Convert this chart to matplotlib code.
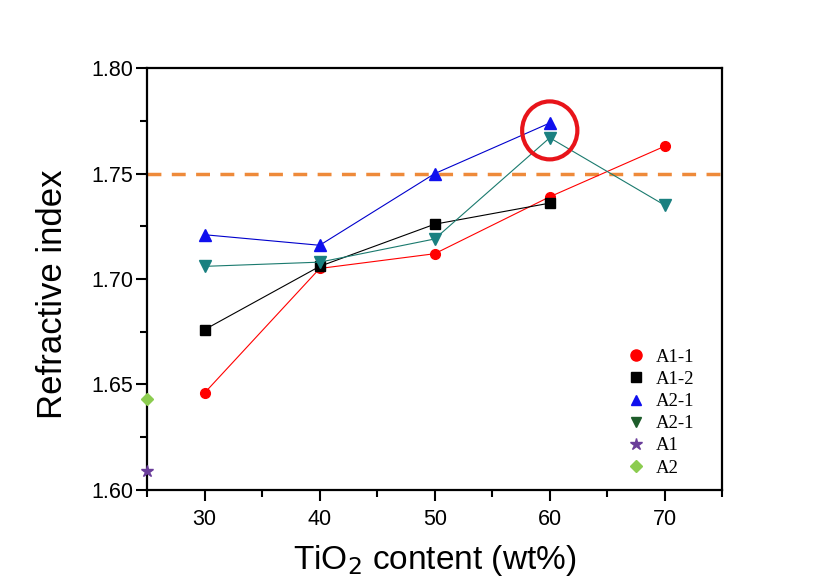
import numpy as np
import matplotlib.pyplot as plt
from matplotlib.patches import Ellipse
from matplotlib.ticker import MultipleLocator

# TiO2 content (wt%)
x_a11 = [30, 40, 50, 60, 70]
y_a11 = [1.646, 1.705, 1.712, 1.739, 1.763]

x_a12 = [30, 40, 50, 60]
y_a12 = [1.676, 1.706, 1.726, 1.736]

x_a21 = [30, 40, 50, 60]
y_a21 = [1.721, 1.716, 1.750, 1.774]

x_a21b = [30, 40, 50, 60, 70]
y_a21b = [1.706, 1.708, 1.719, 1.767, 1.735]

x_a1 = [25]
y_a1 = [1.609]
x_a2 = [25]
y_a2 = [1.643]

target = 1.75

plt.rcParams['font.family'] = ['Liberation Sans', 'DejaVu Sans']

fig = plt.figure(figsize=(8.36, 5.88), dpi=100)
ax = fig.add_axes([0.176, 0.167, 0.688, 0.717])

ax.axhline(target, color='#ee8a3a', lw=2.5, ls=(0, (4, 3)), zorder=1)

ax.plot(x_a11, y_a11, color='red', lw=0.8, marker='o', ms=7, zorder=3)
ax.plot(x_a12, y_a12, color='black', lw=0.8, marker='s', ms=6.5, zorder=3)
ax.plot(x_a21, y_a21, color='#0000cc', lw=0.8, marker='^', ms=8,
        mfc='#1010ee', mec='#1010ee', zorder=3)
ax.plot(x_a21b, y_a21b, color='#1a7a6e', lw=0.8, marker='v', ms=8,
        mfc='#1a8080', mec='#1a8080', zorder=3)
ax.plot(x_a1, y_a1, ls='none', marker='*', ms=9, color='#6a3d9a',
        clip_on=False, zorder=4)
ax.plot(x_a2, y_a2, ls='none', marker='D', ms=6, color='#8ccc50',
        clip_on=False, zorder=4)

# highlight circle
ax.add_patch(Ellipse((60, 1.7705), 4.8, 0.0275, fill=False,
                     ec='#e8141a', lw=3, zorder=5))

# legend (dummy handles for legend markers)
h = [
    ax.plot([], [], ls='none', marker='o', ms=8, color='red')[0],
    ax.plot([], [], ls='none', marker='s', ms=6.5, color='black')[0],
    ax.plot([], [], ls='none', marker='^', ms=7.5, color='#1010ee')[0],
    ax.plot([], [], ls='none', marker='v', ms=7.5, color='#1d5c2a')[0],
    ax.plot([], [], ls='none', marker='*', ms=9, color='#6a3d9a')[0],
    ax.plot([], [], ls='none', marker='D', ms=6, color='#8ccc50')[0],
]
labels = ['A1-1', 'A1-2', 'A2-1', 'A2-1', 'A1', 'A2']
ax.legend(h, labels, loc='lower right', frameon=False,
          prop={'family': 'Liberation Serif', 'size': 13.5},
          handletextpad=0.1, labelspacing=0.27, borderaxespad=0.3,
          bbox_to_anchor=(0.975, 0.0))

ax.set_xlim(25, 75)
ax.set_ylim(1.60, 1.80)
ax.set_xticks([30, 40, 50, 60, 70])
ax.xaxis.set_minor_locator(MultipleLocator(5))
ax.yaxis.set_major_locator(MultipleLocator(0.05))
ax.yaxis.set_minor_locator(MultipleLocator(0.025))
ax.yaxis.set_major_formatter(plt.FormatStrFormatter('%.2f'))

ax.tick_params(which='both', direction='out', top=False, right=False,
               width=1.5, labelsize=15.5)
ax.tick_params(axis='y', pad=2)
ax.tick_params(axis='x', pad=6)
ax.tick_params(which='major', length=8)
ax.tick_params(which='minor', length=5)
for s in ax.spines.values():
    s.set_linewidth(1.6)

ax.set_xlabel('TiO$_2$ content (wt%)', fontsize=24)
ax.set_ylabel('Refractive index', fontsize=25)
ax.xaxis.set_label_coords(0.5, -0.125)
ax.yaxis.set_label_coords(-0.135, 0.465)

fig.savefig('out.png', dpi=100)
